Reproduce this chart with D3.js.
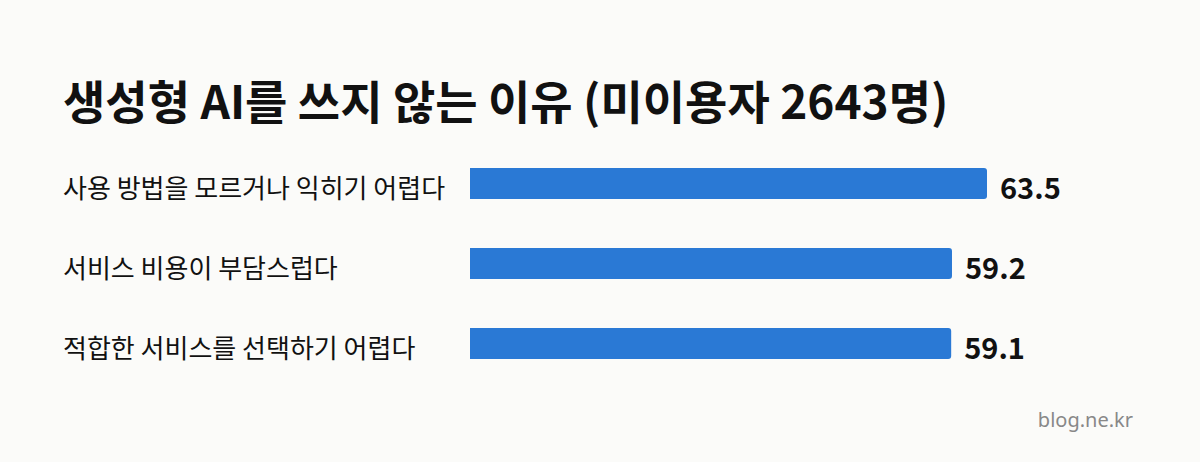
<!DOCTYPE html>
<html><head><meta charset="utf-8">
<script src="https://cdn.jsdelivr.net/npm/d3@7"></script>
<style>
html,body{margin:0;padding:0;background:#fbfbf9;}
svg{display:block;}
text{font-family:"Noto Sans CJK KR","Noto Sans",sans-serif;}
</style></head>
<body>
<script>
const title = "생성형 AI를 쓰지 않는 이유 (미이용자 2643명)";
const categories = ["사용 방법을 모르거나 익히기 어렵다", "서비스 비용이 부담스럽다", "적합한 서비스를 선택하기 어렵다"];
const values = [63.5, 59.2, 59.1];
const source = "blog.ne.kr";

const W = 1200, H = 462;
const svg = d3.select("body").append("svg").attr("width", W).attr("height", H);
svg.append("rect").attr("width", W).attr("height", H).attr("fill", "#fbfbf9");

svg.append("text").attr("x", 63).attr("y", 119)
  .attr("font-size", 46).attr("font-weight", 700).attr("fill", "#111")
  .text(title);

const x = d3.scaleLinear().domain([0, d3.max(values)]).range([470, 987]);
const y = d3.scaleBand().domain(categories).range([168, 359]).paddingInner(0.6125).paddingOuter(0);

const g = svg.append("g");
categories.forEach((c, i) => {
  const v = values[i];
  const y0 = y(c), bh = y.bandwidth(), x0 = x(0), x1 = x(v), r = 3;
  g.append("path")
    .attr("d", `M${x0},${y0}H${x1 - r}Q${x1},${y0} ${x1},${y0 + r}V${y0 + bh - r}Q${x1},${y0 + bh} ${x1 - r},${y0 + bh}H${x0}Z`)
    .attr("fill", "#2a79d5");
  g.append("text").attr("x", 63).attr("y", y0 + bh / 2 + 14)
    .attr("font-size", 26).attr("fill", "#111").text(c);
  g.append("text").attr("x", x1 + 13).attr("y", y0 + bh / 2 + 15)
    .attr("font-size", 29).attr("font-weight", 700).attr("fill", "#111").text(v.toFixed(1));
});

svg.append("text").attr("x", 1133).attr("y", 427).attr("text-anchor", "end")
  .attr("font-size", 20).attr("fill", "#888").style("font-family", "'Noto Sans',sans-serif")
  .text(source);
</script>
</body></html>
